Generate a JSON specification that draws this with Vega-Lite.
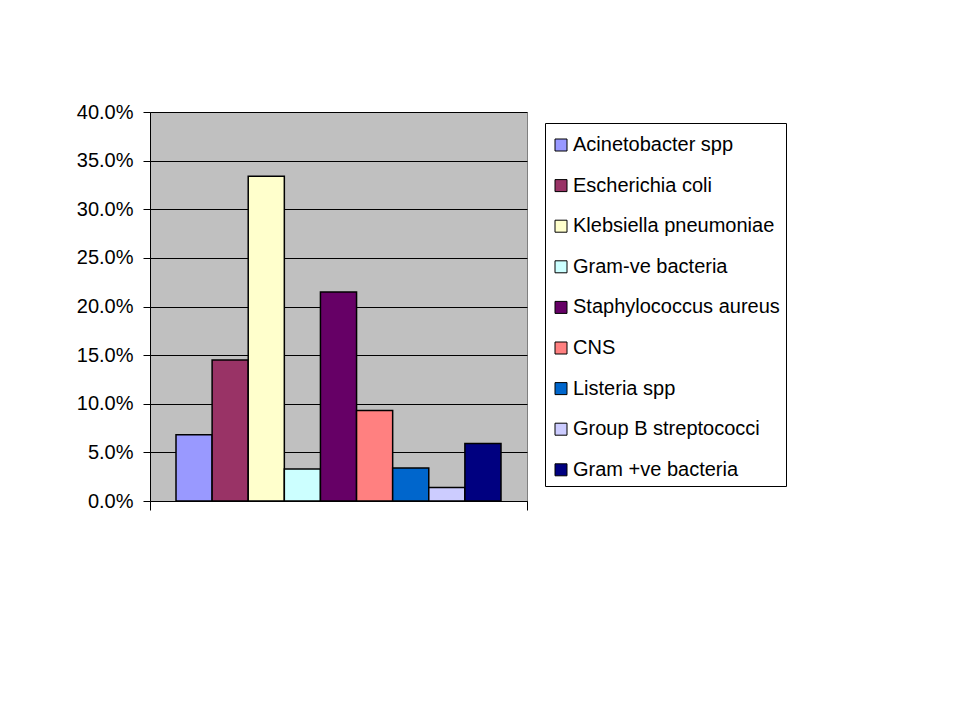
{
  "$schema": "https://vega.github.io/schema/vega-lite/v6.json",
  "width": 377,
  "height": 389,
  "autosize": {"type": "none"},
  "padding": {"left": 150, "top": 112, "right": 433, "bottom": 219},
  "background": "white",
  "config": {
    "font": "Liberation Sans",
    "view": {"fill": "#C0C0C0", "stroke": "#808080", "strokeWidth": 1}
  },
  "data": {
    "values": [
      {"group": "all", "name": "Acinetobacter spp", "value": 0.068},
      {"group": "all", "name": "Escherichia coli", "value": 0.145},
      {"group": "all", "name": "Klebsiella pneumoniae", "value": 0.334},
      {"group": "all", "name": "Gram-ve bacteria", "value": 0.033},
      {"group": "all", "name": "Staphylococcus aureus", "value": 0.215},
      {"group": "all", "name": "CNS", "value": 0.093},
      {"group": "all", "name": "Listeria spp", "value": 0.034},
      {"group": "all", "name": "Group B streptococci", "value": 0.014},
      {"group": "all", "name": "Gram +ve bacteria", "value": 0.059}
    ]
  },
  "mark": {"type": "bar", "stroke": "black", "strokeWidth": 1.5},
  "encoding": {
    "x": {
      "field": "group",
      "type": "nominal",
      "scale": {"paddingInner": 0, "paddingOuter": 0},
      "axis": {
        "labels": false,
        "title": null,
        "tickBand": "extent",
        "tickSize": 9,
        "tickColor": "black",
        "domainColor": "black",
        "domainWidth": 1
      }
    },
    "xOffset": {
      "field": "name",
      "type": "nominal",
      "sort": ["Acinetobacter spp", "Escherichia coli", "Klebsiella pneumoniae", "Gram-ve bacteria", "Staphylococcus aureus", "CNS", "Listeria spp", "Group B streptococci", "Gram +ve bacteria"],
      "scale": {"paddingInner": 0, "paddingOuter": 0.72}
    },
    "y": {
      "field": "value",
      "type": "quantitative",
      "scale": {"domain": [0, 0.4], "nice": false},
      "axis": {
        "title": null,
        "values": [0, 0.05, 0.1, 0.15, 0.2, 0.25, 0.3, 0.35, 0.4],
        "format": ".1%",
        "labelFontSize": 20,
        "labelColor": "black",
        "labelPadding": 10,
        "tickSize": 7,
        "tickColor": "black",
        "domainColor": "black",
        "grid": true,
        "gridColor": "black",
        "gridWidth": 1,
        "gridOpacity": 1
      }
    },
    "color": {
      "field": "name",
      "type": "nominal",
      "sort": ["Acinetobacter spp", "Escherichia coli", "Klebsiella pneumoniae", "Gram-ve bacteria", "Staphylococcus aureus", "CNS", "Listeria spp", "Group B streptococci", "Gram +ve bacteria"],
      "scale": {
        "domain": ["Acinetobacter spp", "Escherichia coli", "Klebsiella pneumoniae", "Gram-ve bacteria", "Staphylococcus aureus", "CNS", "Listeria spp", "Group B streptococci", "Gram +ve bacteria"],
        "range": ["#9999FF", "#993366", "#FFFFCC", "#CCFFFF", "#660066", "#FF8080", "#0066CC", "#CCCCFF", "#000080"]
      },
      "legend": {
        "title": " ",
        "titleFontSize": 2,
        "titlePadding": 4,
        "orient": "none",
        "legendX": 395,
        "legendY": 11,
        "padding": 6,
        "fillColor": "white",
        "strokeColor": "black",
        "symbolType": "square",
        "symbolSize": 144,
        "symbolStrokeColor": "black",
        "symbolStrokeWidth": 1,
        "symbolOpacity": 1,
        "labelFontSize": 20,
        "labelColor": "black",
        "labelOffset": 2,
        "labelLimit": 400,
        "rowPadding": 20.6
      }
    }
  }
}
